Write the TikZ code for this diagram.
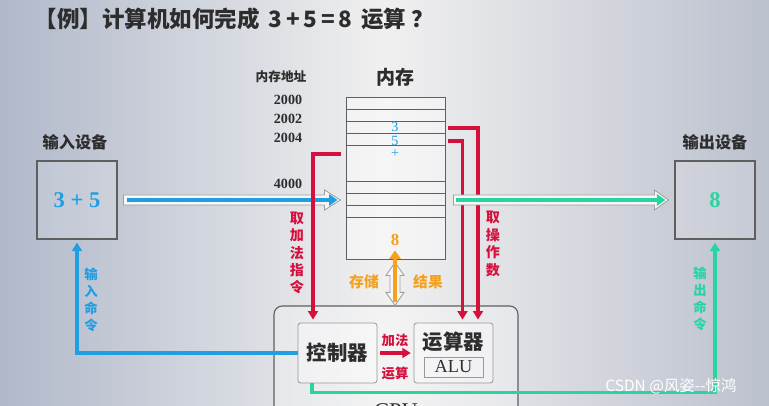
\documentclass[tikz,border=0pt]{standalone}
\usepackage{fontspec}
\setmainfont{Liberation Serif}
\newfontfamily\cjk{Noto Sans CJK SC}
\usetikzlibrary{calc,arrows.meta}

\definecolor{bluecmd}{RGB}{33,157,226}
\definecolor{redcmd}{RGB}{214,16,60}
\definecolor{greencmd}{RGB}{40,212,160}
\definecolor{orangecmd}{RGB}{245,160,30}
\definecolor{inkgray}{RGB}{45,45,45}
\definecolor{boxgray}{RGB}{95,95,95}
\definecolor{bgleft}{RGB}{176,184,201}
\definecolor{bgmid}{RGB}{240,240,240}
\definecolor{bgright}{RGB}{188,193,206}

\begin{document}
\begin{tikzpicture}[x=0.025cm,y=-0.025cm,
    devbox/.style={draw=boxgray,line width=0.8pt,fill=white,fill opacity=0.15,text opacity=1,
        minimum width=2cm,minimum height=1.95cm,inner sep=0pt},
    membox/.style={draw=boxgray,line width=0.6pt,fill=white,fill opacity=0.4,
        minimum width=2.475cm,minimum height=4.05cm,inner sep=0pt},
    cpubox/.style={draw=boxgray,line width=0.8pt,rounded corners=6pt,fill=white,fill opacity=0.25,
        minimum width=6.1cm,minimum height=3.75cm,inner sep=0pt},
    unitbox/.style={draw=gray!80,line width=0.6pt,rounded corners=2pt,fill=white,fill opacity=0.35,text opacity=1,
        minimum width=1.975cm,minimum height=1.5cm,inner sep=0pt},
    rowline/.style={boxgray,line width=0.5pt},
    hollow/.style={draw=gray!75,line width=0.6pt,fill=white!94!gray},
    redline/.style={redcmd,line width=2.2pt,-{Triangle[length=6pt,width=7pt]}},
    blueline/.style={bluecmd,line width=2.2pt,-{Triangle[length=6pt,width=7pt]}},
    greenline/.style={greencmd,line width=2.2pt,-{Triangle[length=6pt,width=7pt]}},
    label/.style={font=\cjk\bfseries\fontsize{11.5}{13}\selectfont,text=inkgray,inner sep=0pt},
    addr/.style={font=\bfseries\fontsize{10}{12}\selectfont,text=inkgray,inner sep=0pt},
    cell/.style={font=\fontsize{10}{11}\selectfont,text=bluecmd,inner sep=0pt},
    vtext/.style={font=\cjk\bfseries\fontsize{10}{12.4}\selectfont,align=center,inner sep=0pt}]

\useasboundingbox (0,0) rectangle (769,406);
\clip (0,0) rectangle (769,406);
\shade[left color=bgleft,right color=bgright,middle color=bgmid] (0,0) rectangle (769,406);

% title
\node[anchor=west,font=\cjk\bfseries\fontsize{16}{18}\selectfont,text=inkgray] (title) at (30,19)
    {【例】计算机如何完成 \,3\,+\,5\,=\,8\, 运算 ？};

% devices
\node[label] (inlabel) at (75,142) {输入设备};
\node[devbox,font=\bfseries\fontsize{16}{18}\selectfont,text=bluecmd] (in) at (77,200) {3 + 5};
\node[label] (outlabel) at (715,142) {输出设备};
\node[devbox,font=\bfseries\fontsize{16}{18}\selectfont,text=greencmd] (out) at (715,200) {8};

% memory
\node[label,font=\cjk\bfseries\fontsize{13.5}{15}\selectfont] (memlabel) at (395,77) {内存};
\node[membox] (mem) at (395.5,178) {};
\foreach \d in {13,25,37,49,85,97,109,121}
    \draw[rowline] ($(mem.north west)+(0,\d)$) -- ($(mem.north east)+(0,\d)$);
\node[label,font=\cjk\bfseries\fontsize{9}{11}\selectfont] (addrlabel) at (281,77) {内存地址};
\node[addr] (a2000) at (288,100) {2000};
\node[addr] (a2002) at (288,119) {2002};
\node[addr] (a2004) at (288,138) {2004};
\node[addr] (a4000) at (288,184) {4000};
\node[cell] (m3) at (395,127) {3};
\node[cell] (m5) at (395,141) {5};
\node[cell] (mplus) at (395,154) {+};

% cpu
\node[cpubox] (cpu) at (396,381) {};
\node[font=\fontsize{16}{18}\selectfont,text=inkgray] (cpulabel) at ($(cpu.north)+(0,106)$) {CPU};
\node[unitbox,font=\cjk\bfseries\fontsize{14.5}{16}\selectfont,text=inkgray] (ctrl) at (337.5,353) {控制器};
\node[unitbox] (alu) at (453.5,353) {};
\node[label,font=\cjk\bfseries\fontsize{14.5}{16}\selectfont] (alutitle) at ($(alu)+(0,-11)$) {运算器};
\node[draw=gray!80,line width=0.5pt,minimum width=1.475cm,minimum height=0.5cm,inner sep=0pt,
    font=\fontsize{13}{14}\selectfont,text=inkgray] (alutag) at ($(alu)+(0,14)$) {ALU};

% input arrow
\coordinate (ba) at ($(in.east)+(6,0)$);
\coordinate (bb) at ($(in.east -| mem.west)+(-5,0)$);
\draw[hollow] ($(ba)+(0,-5)$) -- ($(bb)+(-16,-5)$) -- ($(bb)+(-16,-10)$) -- (bb)
    -- ($(bb)+(-16,10)$) -- ($(bb)+(-16,5)$) -- ($(ba)+(0,5)$) -- cycle;
\draw[bluecmd,line width=2.8pt,-{Triangle[length=6pt,width=8pt]}] ($(ba)+(3,0)$) -- ($(bb)+(-3,0)$);

% fetch lines
\draw[redline] ($(mem.west)+(-5,-24)$) -| ($(ctrl.north)+(-24.5,-3)$);
\draw[redline] ($(mem.east)+(3,-50)$) -| ($(alu.north)+(24.5,-3)$);
\draw[redline] ($(mem.east)+(3,-37)$) -| ($(alu.north)+(9,-3)$);
\node[vtext,text=redcmd] (fetchop) at (297,253) {取\\加\\法\\指\\令};
\node[vtext,text=redcmd] (fetchnum) at (493,244) {取\\操\\作\\数};

% output arrow
\coordinate (ga) at ($(mem.east |- out.west)+(8,0)$);
\coordinate (gb) at ($(out.west)+(-6,0)$);
\draw[hollow] ($(ga)+(0,-5)$) -- ($(gb)+(-14,-5)$) -- ($(gb)+(-14,-10)$) -- (gb)
    -- ($(gb)+(-14,10)$) -- ($(gb)+(-14,5)$) -- ($(ga)+(0,5)$) -- cycle;
\draw[greencmd,line width=2.8pt,-{Triangle[length=6pt,width=8pt]}] ($(ga)+(3,0)$) -- ($(gb)+(-3,0)$);

% store result
\coordinate (oa) at ($(mem.south)+(-0.5,3)$);
\coordinate (ob) at (oa |- cpu.north);
\draw[hollow] (oa) -- ($(oa)+(9,13)$) -- ($(oa)+(5,13)$) -- ($(ob)+(5,-13)$) -- ($(ob)+(9,-13)$) -- (ob)
    -- ($(ob)+(-9,-13)$) -- ($(ob)+(-5,-13)$) -- ($(oa)+(-5,13)$) -- ($(oa)+(-9,13)$) -- cycle;
\draw[orangecmd,line width=2.6pt,-{Triangle[length=6pt,width=8pt]}] ($(ob)+(0,-3)$) -- ($(mem.south)+(-0.5,-9)$);
\node[font=\bfseries\fontsize{12}{14}\selectfont,text=orangecmd,inner sep=0pt] (res) at (395,240) {8};
\node[label,text=orangecmd,font=\cjk\bfseries\fontsize{10.5}{12}\selectfont] (store) at (364,282) {存储};
\node[label,text=orangecmd,font=\cjk\bfseries\fontsize{10.5}{12}\selectfont] (result) at (428,282) {结果};

% add
\draw[redline,shorten <=2pt,shorten >=2pt] (ctrl.east) -- (alu.west);
\node[label,text=redcmd,font=\cjk\bfseries\fontsize{9.5}{11}\selectfont] (addup) at (395,340) {加法};
\node[label,text=redcmd,font=\cjk\bfseries\fontsize{9.5}{11}\selectfont] (adddown) at (395,373) {运算};

% commands
\draw[blueline] (ctrl.west) -| ($(in.south)+(0,3)$);
\node[vtext,text=bluecmd,font=\cjk\bfseries\fontsize{9.5}{12}\selectfont] (incmd) at (91,300) {输\\入\\命\\令};
\draw[greenline] ($(ctrl.south)+(-25.5,0)$) -- ++(0,9) -| ($(out.south)+(0,3)$);
\node[vtext,text=greencmd,font=\cjk\bfseries\fontsize{9.5}{12}\selectfont] (outcmd) at (700,299) {输\\出\\命\\令};

% watermark
\node[font=\fontsize{11}{13}\selectfont\cjk,text=white] (mark) at (671,386) {CSDN @风姿--惊鸿};
\end{tikzpicture}
\end{document}
